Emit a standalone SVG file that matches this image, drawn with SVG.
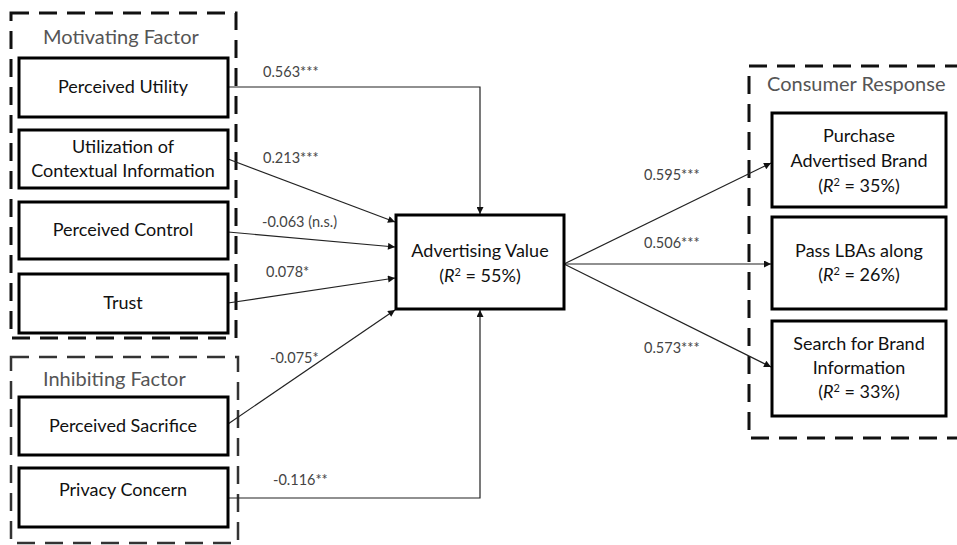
<svg xmlns="http://www.w3.org/2000/svg" width="957" height="545" viewBox="0 0 957 545">
<style>
.grp{fill:none;stroke:#111;stroke-width:3;stroke-dasharray:18 10}
.grp2{fill:none;stroke:#333;stroke-width:2.5;stroke-dasharray:18 10}
.box{fill:#fff;stroke:#000;stroke-width:3}
.t{font-family:Lato,"Liberation Sans",sans-serif;font-size:18px;fill:#111;text-anchor:middle}
.gt{font-family:Lato,"Liberation Sans",sans-serif;font-size:20px;fill:#555}
.lb{font-family:Lato,"Liberation Sans",sans-serif;font-size:14.5px;fill:#444}
.c{fill:none;stroke:#222;stroke-width:1.2}
.i{font-style:italic}
.sup{font-size:11px}
</style>
<defs>
<marker id="ah" viewBox="0 0 10 10" refX="10" refY="5" markerWidth="9" markerHeight="7" markerUnits="userSpaceOnUse" orient="auto">
<path d="M0,0 L10,5 L0,10 z" fill="#111"/>
</marker>
</defs>

<g id="motivating-factor">
<rect class="grp" x="11" y="13" width="225" height="325"/>
<text class="gt" x="43" y="44">Motivating Factor</text>
</g>
<g id="inhibiting-factor">
<rect class="grp2" x="11" y="357" width="227" height="186"/>
<text class="gt" x="43" y="386">Inhibiting Factor</text>
</g>
<g id="consumer-response">
<rect class="grp" x="749" y="66" width="230" height="372"/>
<text class="gt" x="767" y="91">Consumer Response</text>
</g>

<g id="connectors">
<polyline class="c" points="228,87 480,87 480,214" marker-end="url(#ah)"/>
<line class="c" x1="228" y1="159" x2="395" y2="222" marker-end="url(#ah)"/>
<line class="c" x1="228" y1="232" x2="395" y2="247" marker-end="url(#ah)"/>
<line class="c" x1="228" y1="303" x2="395" y2="278" marker-end="url(#ah)"/>
<line class="c" x1="228" y1="424" x2="395" y2="310" marker-end="url(#ah)"/>
<polyline class="c" points="228,498 480,498 480,310" marker-end="url(#ah)"/>
<line class="c" x1="564" y1="264" x2="771" y2="163" marker-end="url(#ah)"/>
<line class="c" x1="564" y1="264" x2="771" y2="264" marker-end="url(#ah)"/>
<line class="c" x1="564" y1="264" x2="771" y2="367" marker-end="url(#ah)"/>
<text class="lb" x="263" y="77">0.563***</text>
<text class="lb" x="263" y="163">0.213***</text>
<text class="lb" x="262" y="227">-0.063 (n.s.)</text>
<text class="lb" x="266" y="277">0.078*</text>
<text class="lb" x="270" y="363">-0.075*</text>
<text class="lb" x="273" y="485">-0.116**</text>
<text class="lb" x="644" y="180">0.595***</text>
<text class="lb" x="644" y="248">0.506***</text>
<text class="lb" x="644" y="353">0.573***</text>
</g>

<g id="perceived-utility">
<rect class="box" x="19" y="58" width="209" height="59"/>
<text class="t" x="123" y="93">Perceived Utility</text>
</g>
<g id="utilization">
<rect class="box" x="19" y="130" width="209" height="58"/>
<text class="t" x="123" y="153">Utilization of</text>
<text class="t" x="123" y="177">Contextual Information</text>
</g>
<g id="perceived-control">
<rect class="box" x="19" y="202" width="209" height="57"/>
<text class="t" x="123" y="236">Perceived Control</text>
</g>
<g id="trust">
<rect class="box" x="19" y="274" width="209" height="59"/>
<text class="t" x="123" y="309">Trust</text>
</g>
<g id="perceived-sacrifice">
<rect class="box" x="19" y="397" width="209" height="58"/>
<text class="t" x="123" y="432">Perceived Sacrifice</text>
</g>
<g id="privacy-concern">
<rect class="box" x="19" y="468" width="209" height="59"/>
<text class="t" x="123" y="496">Privacy Concern</text>
</g>
<g id="advertising-value">
<rect class="box" x="396" y="215" width="168" height="94"/>
<text class="t" x="480" y="257">Advertising Value</text>
<text class="t" x="480" y="282">(<tspan class="i">R</tspan><tspan class="sup" dy="-6">2</tspan><tspan dy="6"> = 55%)</tspan></text>
</g>
<g id="purchase">
<rect class="box" x="772" y="113" width="174" height="94"/>
<text class="t" x="859" y="142">Purchase</text>
<text class="t" x="859" y="167">Advertised Brand</text>
<text class="t" x="859" y="192">(<tspan class="i">R</tspan><tspan class="sup" dy="-6">2</tspan><tspan dy="6"> = 35%)</tspan></text>
</g>
<g id="pass-lbas">
<rect class="box" x="772" y="217" width="174" height="92"/>
<text class="t" x="859" y="257">Pass LBAs along</text>
<text class="t" x="859" y="281">(<tspan class="i">R</tspan><tspan class="sup" dy="-6">2</tspan><tspan dy="6"> = 26%)</tspan></text>
</g>
<g id="search">
<rect class="box" x="772" y="321" width="174" height="95"/>
<text class="t" x="859" y="350">Search for Brand</text>
<text class="t" x="859" y="374">Information</text>
<text class="t" x="859" y="398">(<tspan class="i">R</tspan><tspan class="sup" dy="-6">2</tspan><tspan dy="6"> = 33%)</tspan></text>
</g>
</svg>
